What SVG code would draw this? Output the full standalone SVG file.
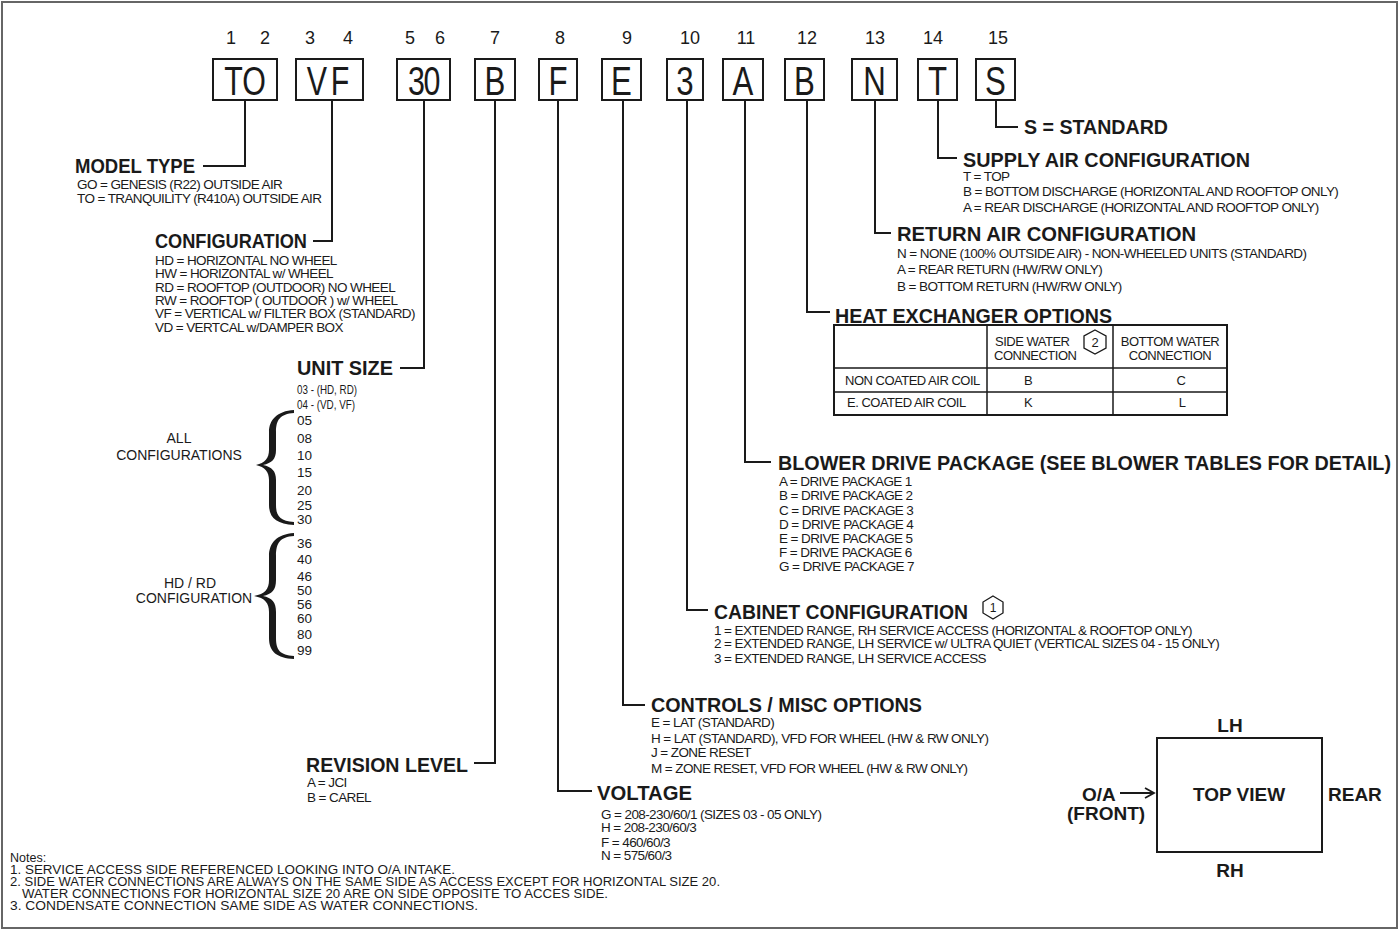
<svg xmlns="http://www.w3.org/2000/svg" width="1400" height="933" viewBox="0 0 1400 933">
<style>
text{font-family:"Liberation Sans",Arial,sans-serif;fill:#1a1a1a}
.num{font-size:18px;text-anchor:middle}
.bx{fill:none;stroke:#1a1a1a;stroke-width:2}
.bl{font-size:40px;text-anchor:middle}
.h{font-size:20px;font-weight:bold}
.it{font-size:13.5px;letter-spacing:-0.6px}
.us{font-size:13.5px}
.sl{font-size:14px;text-anchor:middle}
.cn{fill:none;stroke:#1a1a1a;stroke-width:2}
.br{fill:#1a1a1a;stroke:none}
.tb{font-size:13px;letter-spacing:-0.5px}
.tc{font-size:13px;letter-spacing:-0.5px;text-anchor:middle}
.tv{font-size:19px;font-weight:bold}
.nt{font-size:12.5px}
</style>
<rect x="2" y="2" width="1395" height="926" fill="#fff" stroke="#666" stroke-width="2"/>

<g id="positions">
<text class="num" x="231" y="44">1</text>
<text class="num" x="265" y="44">2</text>
<text class="num" x="310" y="44">3</text>
<text class="num" x="348" y="44">4</text>
<text class="num" x="410" y="44">5</text>
<text class="num" x="440" y="44">6</text>
<text class="num" x="495" y="44">7</text>
<text class="num" x="560" y="44">8</text>
<text class="num" x="627" y="44">9</text>
<text class="num" x="690" y="44">10</text>
<text class="num" x="746" y="44">11</text>
<text class="num" x="807" y="44">12</text>
<text class="num" x="875" y="44">13</text>
<text class="num" x="933" y="44">14</text>
<text class="num" x="998" y="44">15</text>
</g>

<g id="code-boxes">
<rect class="bx" x="213" y="59" width="64" height="41"/>
<text class="bl" transform="translate(245,95) scale(0.76,1)">TO</text>
<rect class="bx" x="296" y="59" width="67" height="41"/>
<text class="bl" transform="translate(330,95) scale(0.76,1)" letter-spacing="5">VF</text>
<rect class="bx" x="397" y="59" width="53" height="41"/>
<text class="bl" transform="translate(423.5,95) scale(0.76,1)" letter-spacing="-2">30</text>
<rect class="bx" x="475" y="59" width="40" height="41"/>
<text class="bl" transform="translate(495,95) scale(0.78,1)">B</text>
<rect class="bx" x="539" y="59" width="38" height="41"/>
<text class="bl" transform="translate(558,95) scale(0.78,1)">F</text>
<rect class="bx" x="602" y="59" width="39" height="41"/>
<text class="bl" transform="translate(621.5,95) scale(0.78,1)">E</text>
<rect class="bx" x="667" y="59" width="36" height="41"/>
<text class="bl" transform="translate(685,95) scale(0.78,1)">3</text>
<rect class="bx" x="723" y="59" width="40" height="41"/>
<text class="bl" transform="translate(743,95) scale(0.78,1)">A</text>
<rect class="bx" x="785" y="59" width="39" height="41"/>
<text class="bl" transform="translate(804.5,95) scale(0.78,1)">B</text>
<rect class="bx" x="852" y="59" width="45" height="41"/>
<text class="bl" transform="translate(874.5,95) scale(0.78,1)">N</text>
<rect class="bx" x="918" y="59" width="39" height="41"/>
<text class="bl" transform="translate(937.5,95) scale(0.78,1)">T</text>
<rect class="bx" x="976" y="59" width="39" height="41"/>
<text class="bl" transform="translate(995.5,95) scale(0.78,1)">S</text>
</g>

<g id="connectors">
<path class="cn" d="M245,100 V166 H203"/>
<path class="cn" d="M332,100 V241 H313"/>
<path class="cn" d="M424,100 V368 H400"/>
<path class="cn" d="M495,100 V763 H474"/>
<path class="cn" d="M558,100 V791 H592"/>
<path class="cn" d="M623,100 V705 H645"/>
<path class="cn" d="M687,100 V610 H708"/>
<path class="cn" d="M745,100 V462 H771"/>
<path class="cn" d="M807,100 V312 H830"/>
<path class="cn" d="M875,100 V233 H891"/>
<path class="cn" d="M938,100 V158 H957"/>
<path class="cn" d="M996,100 V127 H1018"/>
</g>

<g id="model-type">
<text class="h" x="75" y="173" textLength="120" lengthAdjust="spacingAndGlyphs">MODEL TYPE</text>
<text class="it" x="77" y="189">GO = GENESIS (R22) OUTSIDE AIR</text>
<text class="it" x="77" y="203">TO = TRANQUILITY (R410A) OUTSIDE AIR</text>
</g>

<g id="configuration">
<text class="h" x="155" y="248" textLength="152" lengthAdjust="spacingAndGlyphs">CONFIGURATION</text>
<text class="it" x="155" y="265">HD = HORIZONTAL NO WHEEL</text>
<text class="it" x="155" y="278">HW = HORIZONTAL w/ WHEEL</text>
<text class="it" x="155" y="292">RD = ROOFTOP (OUTDOOR) NO WHEEL</text>
<text class="it" x="155" y="305">RW = ROOFTOP ( OUTDOOR ) w/ WHEEL</text>
<text class="it" x="155" y="318">VF = VERTICAL w/ FILTER BOX (STANDARD)</text>
<text class="it" x="155" y="332">VD = VERTCAL w/DAMPER BOX</text>
</g>

<g id="unit-size">
<text class="h" x="297" y="375" textLength="96" lengthAdjust="spacingAndGlyphs">UNIT SIZE</text>
<text class="us" x="297" y="394" textLength="60" lengthAdjust="spacingAndGlyphs">03 - (HD, RD)</text>
<text class="us" x="297" y="409" textLength="58" lengthAdjust="spacingAndGlyphs">04 - (VD, VF)</text>
<text class="us" x="297" y="425">05</text>
<text class="us" x="297" y="443">08</text>
<text class="us" x="297" y="460">10</text>
<text class="us" x="297" y="477">15</text>
<text class="us" x="297" y="495">20</text>
<text class="us" x="297" y="510">25</text>
<text class="us" x="297" y="524">30</text>
<text class="us" x="297" y="548">36</text>
<text class="us" x="297" y="564">40</text>
<text class="us" x="297" y="581">46</text>
<text class="us" x="297" y="595">50</text>
<text class="us" x="297" y="609">56</text>
<text class="us" x="297" y="623">60</text>
<text class="us" x="297" y="639">80</text>
<text class="us" x="297" y="655">99</text>
<path class="br" d="M294,413 C280,414 276,420 276,432 L276,450 C276,459 272,463 263,465 C272,467 276,471 276,480 L276,505 C276,516 280,521 294,522 L294,525 C277,524 269,518 269,505 L269,480 C269,472 265,467 256,465 C265,463 269,458 269,450 L269,432 C269,420 277,411 294,410 Z"/>
<path class="br" d="M294,536 C280,537 276,543 276,556 L276,580 C276,590 272,594 263,596 C272,598 276,602 276,612 L276,638 C276,650 280,655 294,656 L294,659 C277,658 269,652 269,638 L269,612 C269,603 265,598 254,596 C265,594 269,589 269,580 L269,556 C269,543 277,534 294,533 Z"/>
<text class="sl" x="179" y="443">ALL</text>
<text class="sl" x="179" y="460">CONFIGURATIONS</text>
<text class="sl" x="190" y="588">HD / RD</text>
<text class="sl" x="194" y="603">CONFIGURATION</text>
</g>

<g id="revision-level">
<text class="h" x="306" y="772" textLength="162" lengthAdjust="spacingAndGlyphs">REVISION LEVEL</text>
<text class="it" x="307" y="787">A = JCI</text>
<text class="it" x="307" y="802">B = CAREL</text>
</g>

<g id="voltage">
<text class="h" x="597" y="800" textLength="95" lengthAdjust="spacingAndGlyphs">VOLTAGE</text>
<text class="it" x="601" y="819">G = 208-230/60/1 (SIZES 03 - 05 ONLY)</text>
<text class="it" x="601" y="832">H = 208-230/60/3</text>
<text class="it" x="601" y="847">F = 460/60/3</text>
<text class="it" x="601" y="860">N = 575/60/3</text>
</g>

<g id="controls">
<text class="h" x="651" y="712" textLength="271" lengthAdjust="spacingAndGlyphs">CONTROLS / MISC OPTIONS</text>
<text class="it" x="651" y="727">E = LAT (STANDARD)</text>
<text class="it" x="651" y="743">H = LAT (STANDARD), VFD FOR WHEEL (HW &amp; RW ONLY)</text>
<text class="it" x="651" y="757">J = ZONE RESET</text>
<text class="it" x="651" y="773">M = ZONE RESET, VFD FOR WHEEL (HW &amp; RW ONLY)</text>
</g>

<g id="cabinet">
<text class="h" x="714" y="619" textLength="254" lengthAdjust="spacingAndGlyphs">CABINET CONFIGURATION</text>
<polygon fill="none" stroke="#1a1a1a" stroke-width="1.3" points="993,596 1003,602 1003,613 993,619 983,613 983,602"/>
<text x="993" y="612" font-size="12" text-anchor="middle">1</text>
<text class="it" x="714" y="635">1 = EXTENDED RANGE, RH SERVICE ACCESS (HORIZONTAL &amp; ROOFTOP ONLY)</text>
<text class="it" x="714" y="648">2 = EXTENDED RANGE, LH SERVICE w/ ULTRA QUIET (VERTICAL SIZES 04 - 15 ONLY)</text>
<text class="it" x="714" y="663">3 = EXTENDED RANGE, LH SERVICE ACCESS</text>
</g>

<g id="blower">
<text class="h" x="778" y="470" textLength="613" lengthAdjust="spacingAndGlyphs">BLOWER DRIVE PACKAGE (SEE BLOWER TABLES FOR DETAIL)</text>
<text class="it" x="779" y="486">A = DRIVE PACKAGE 1</text>
<text class="it" x="779" y="500">B = DRIVE PACKAGE 2</text>
<text class="it" x="779" y="514.5">C = DRIVE PACKAGE 3</text>
<text class="it" x="779" y="528.5">D = DRIVE PACKAGE 4</text>
<text class="it" x="779" y="542.5">E = DRIVE PACKAGE 5</text>
<text class="it" x="779" y="557">F = DRIVE PACKAGE 6</text>
<text class="it" x="779" y="571">G = DRIVE PACKAGE 7</text>
</g>

<g id="heat-exchanger">
<text class="h" x="835" y="323" textLength="277" lengthAdjust="spacingAndGlyphs">HEAT EXCHANGER OPTIONS</text>
<rect x="834" y="325" width="393" height="90" fill="none" stroke="#1a1a1a" stroke-width="2"/>
<path fill="none" stroke="#1a1a1a" stroke-width="1.5" d="M834,368 H1227 M834,392 H1227 M987,325 V415 M1113,325 V415"/>
<text class="tb" x="995" y="346">SIDE WATER</text>
<text class="tb" x="994" y="360">CONNECTION</text>
<polygon fill="none" stroke="#1a1a1a" stroke-width="1.3" points="1095,330 1106,336 1106,348 1095,354 1084,348 1084,336"/>
<text x="1095" y="347" font-size="13" text-anchor="middle">2</text>
<text class="tc" x="1170" y="346">BOTTOM WATER</text>
<text class="tc" x="1170" y="360">CONNECTION</text>
<text class="tb" x="845" y="385">NON COATED AIR COIL</text>
<text class="tc" x="1028" y="385">B</text>
<text class="tc" x="1181" y="385">C</text>
<text class="tb" x="847" y="407">E. COATED AIR COIL</text>
<text class="tc" x="1028" y="407">K</text>
<text class="tc" x="1182" y="407">L</text>
</g>

<g id="return-air">
<text class="h" x="897" y="241" textLength="299" lengthAdjust="spacingAndGlyphs">RETURN AIR CONFIGURATION</text>
<text class="it" x="897" y="258">N = NONE (100% OUTSIDE AIR) - NON-WHEELED UNITS (STANDARD)</text>
<text class="it" x="897" y="274">A = REAR  RETURN (HW/RW ONLY)</text>
<text class="it" x="897" y="291">B = BOTTOM RETURN (HW/RW ONLY)</text>
</g>

<g id="supply-air">
<text class="h" x="963" y="167" textLength="287" lengthAdjust="spacingAndGlyphs">SUPPLY AIR CONFIGURATION</text>
<text class="it" x="963" y="181">T = TOP</text>
<text class="it" x="963" y="196">B = BOTTOM DISCHARGE (HORIZONTAL  AND ROOFTOP ONLY)</text>
<text class="it" x="963" y="212">A = REAR DISCHARGE (HORIZONTAL  AND ROOFTOP ONLY)</text>
</g>

<g id="standard">
<text class="h" x="1024" y="134" textLength="144" lengthAdjust="spacingAndGlyphs">S = STANDARD</text>
</g>

<g id="top-view">
<rect x="1157" y="738" width="165" height="114" fill="none" stroke="#1a1a1a" stroke-width="2"/>
<text class="tv" x="1239" y="801" text-anchor="middle">TOP VIEW</text>
<text class="tv" x="1230" y="732" text-anchor="middle">LH</text>
<text class="tv" x="1230" y="877" text-anchor="middle">RH</text>
<text class="tv" x="1328" y="801">REAR</text>
<text class="tv" x="1082" y="801">O/A</text>
<text class="tv" x="1067" y="820">(FRONT)</text>
<path fill="none" stroke="#1a1a1a" stroke-width="1.8" d="M1120,793 H1153 M1145,788 L1154,793 L1145,798"/>
</g>

<g id="notes">
<text class="nt" x="10" y="862" font-size="11">Notes:</text>
<text class="nt" x="10" y="874" textLength="445" lengthAdjust="spacingAndGlyphs">1. SERVICE ACCESS SIDE REFERENCED LOOKING INTO O/A INTAKE.</text>
<text class="nt" x="10" y="886" textLength="710" lengthAdjust="spacingAndGlyphs">2. SIDE WATER CONNECTIONS ARE ALWAYS ON THE SAME SIDE AS ACCESS EXCEPT FOR HORIZONTAL SIZE 20.</text>
<text class="nt" x="22" y="898" textLength="586" lengthAdjust="spacingAndGlyphs">WATER CONNECTIONS FOR HORIZONTAL  SIZE 20  ARE ON SIDE OPPOSITE TO ACCES SIDE.</text>
<text class="nt" x="10" y="910" textLength="468" lengthAdjust="spacingAndGlyphs">3. CONDENSATE CONNECTION SAME SIDE AS WATER CONNECTIONS.</text>
</g>
</svg>
